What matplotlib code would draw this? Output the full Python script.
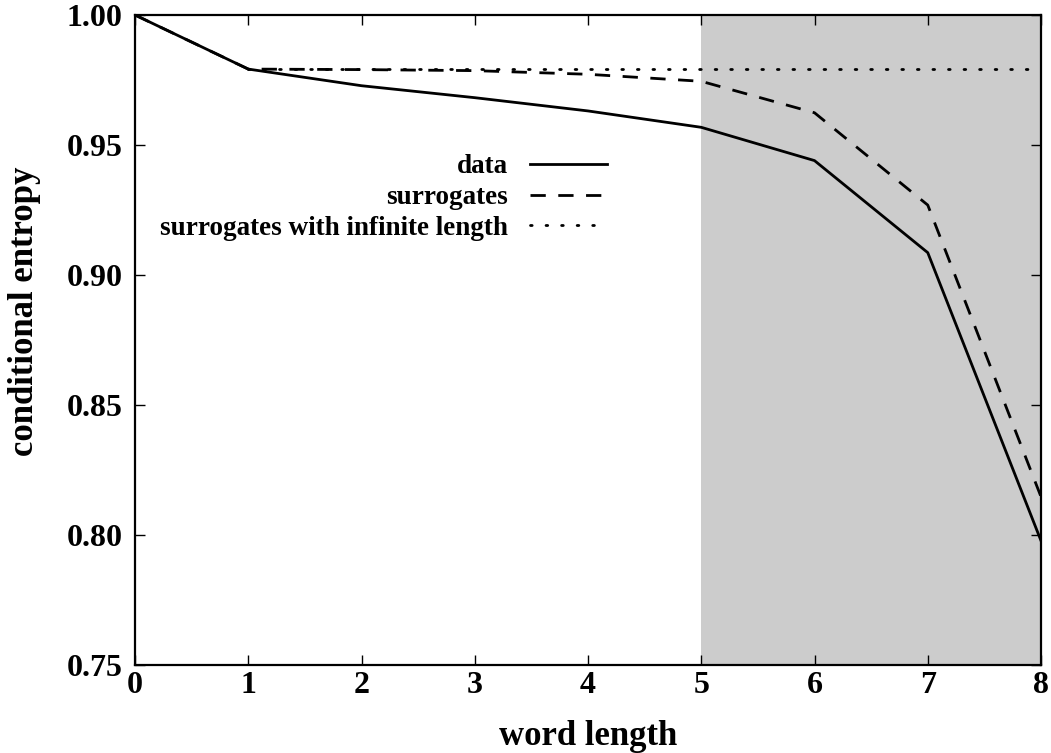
import matplotlib
matplotlib.use("Agg")
import matplotlib.pyplot as plt

word_length = [0, 1, 2, 3, 4, 5, 6, 7, 8]
data = [1.0, 0.9792, 0.9728, 0.9682, 0.9631, 0.9568, 0.9440, 0.9086, 0.7978]
surrogates = [1.0, 0.9792, 0.9790, 0.9786, 0.9772, 0.9745, 0.9624, 0.9269, 0.8147]
infinite_x = [1, 8]
infinite = [0.9792, 0.9792]
shade_range = (5, 8)

plt.rcParams["font.family"] = ["Liberation Serif", "DejaVu Serif"]
plt.rcParams["font.weight"] = "bold"
plt.rcParams["font.size"] = 22

fig = plt.figure(figsize=(10.51, 7.53), dpi=100)
ax = fig.add_axes([135 / 1051, 1 - 665 / 753, 906 / 1051, 650 / 753])

ax.axvspan(*shade_range, color="#cccccc", lw=0, zorder=0)

ax.plot(word_length, data, color="black", lw=2.0, ls="-", label="data")
ax.plot(word_length, surrogates, color="black", lw=2.0, ls=(0, (5.5, 4.5)), label="surrogates")
ax.plot(infinite_x, infinite, color="black", lw=2.0, ls=(0, (0.6, 5.0)), dash_capstyle="round",
        label="surrogates with infinite length")

ax.set_xlim(0, 8)
ax.set_ylim(0.75, 1.0)
ax.set_xticks(word_length)
ax.set_yticks([0.75, 0.80, 0.85, 0.90, 0.95, 1.00])
ax.set_yticklabels([f"{v:.2f}" for v in ax.get_yticks()])
ax.tick_params(direction="in", length=7, width=1.0, top=True, right=True, labelsize=23)
ax.tick_params(axis="x", pad=4)
ax.tick_params(axis="y", pad=9)
for s in ax.spines.values():
    s.set_linewidth(1.6)

ax.set_xlabel("word length", fontweight="bold", fontsize=25)
ax.set_ylabel("conditional entropy", fontweight="bold", fontsize=25)
ax.xaxis.set_label_coords(0.5, -0.084)
ax.yaxis.set_label_coords(-0.104, 0.545)

leg = ax.legend(loc="center right", bbox_to_anchor=(0.521, 0.719), frameon=False,
                markerfirst=False, handlelength=2.85, handletextpad=0.8,
                labelspacing=0.21, borderpad=0, borderaxespad=0, fontsize=19.5)
for col in leg._legend_handle_box.get_children():
    col.align = "right"

fig.savefig("out.png", dpi=100)
